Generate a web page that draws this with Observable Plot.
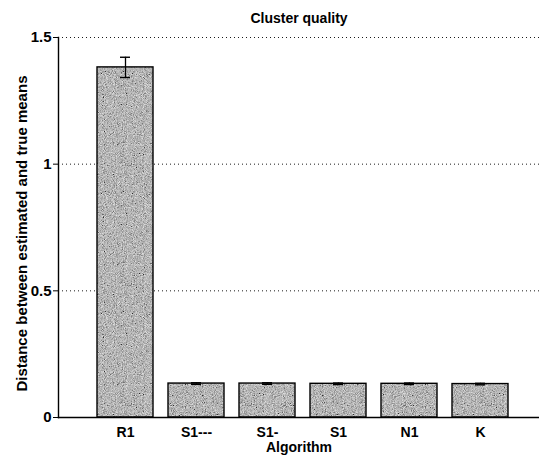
<!DOCTYPE html>
<html>
<head>
<meta charset="utf-8">
<script src="https://cdn.jsdelivr.net/npm/d3@7"></script>
<script src="https://cdn.jsdelivr.net/npm/@observablehq/plot@0.6"></script>
<style>
  html, body { margin: 0; padding: 0; background: #fff; }
  svg { font-family: "Liberation Sans", Arial, sans-serif; }
</style>
</head>
<body>
<div id="chart"></div>
<script>
const title = "Cluster quality";
const xLabel = "Algorithm";
const yLabel = "Distance between estimated and true means";
const algorithms = ["R1", "S1---", "S1-", "S1", "N1", "K"];
const means = [1.382, 0.134, 0.134, 0.133, 0.133, 0.132];
const errors = [0.040, 0.003, 0.003, 0.003, 0.003, 0.003];
const yTicks = [0, 0.5, 1, 1.5];

const data = algorithms.map((a, i) => ({algorithm: a, mean: means[i], lo: means[i] - errors[i], hi: means[i] + errors[i]}));

const plot = Plot.plot({
  width: 539,
  height: 456,
  marginTop: 37,
  marginBottom: 39,
  marginLeft: 58,
  marginRight: 0,
  style: {fontFamily: "Liberation Sans, Arial, sans-serif", fontSize: "13px", color: "#000", background: "#fff"},
  x: {domain: algorithms, paddingInner: 0.21, paddingOuter: 0.49, align: 0.565, label: null},
  y: {domain: [0, 1.5], label: null},
  marks: [
    Plot.gridY(yTicks.slice(1), {stroke: "#000", strokeOpacity: 0.9, strokeDasharray: "1,3"}),
    Plot.barY(data, {x: "algorithm", y: "mean", fill: "url(#stipple)", stroke: "#000", strokeWidth: 1.4}),
    Plot.ruleX(data, {x: "algorithm", y1: "lo", y2: "hi", stroke: "#000", strokeWidth: 1.3}),
    Plot.tickY(data, {x: "algorithm", y: "hi", stroke: "#000", strokeWidth: 1.4, insetLeft: 23, insetRight: 23}),
    Plot.tickY(data, {x: "algorithm", y: "lo", stroke: "#000", strokeWidth: 1.4, insetLeft: 23, insetRight: 23}),
    Plot.frame({anchor: "left", stroke: "#000", strokeWidth: 1.4}),
    Plot.frame({anchor: "bottom", stroke: "#000", strokeWidth: 1.4}),
    Plot.axisY(yTicks, {tickSize: 5, tickPadding: 2, tickFormat: d => String(d), fontWeight: "bold", fontSize: 15, label: null}),
    Plot.axisX({tickSize: 0, tickPadding: 10, fontWeight: "bold", fontSize: 14, label: xLabel, labelAnchor: "center", labelArrow: "none", labelOffset: 34}),
    Plot.text([yLabel], {frameAnchor: "left", textAnchor: "middle", rotate: -90, dx: -36, dy: 6, fontWeight: "bold", fontSize: 15}),
    Plot.text([title], {frameAnchor: "top", dy: -24, fontWeight: "bold", fontSize: 14})
  ]
});

// grey stipple texture for bar fills
const ns = "http://www.w3.org/2000/svg";
const defs = document.createElementNS(ns, "defs");
defs.innerHTML = `
  <filter id="noiseF" x="0" y="0" width="100%" height="100%">
    <feTurbulence type="fractalNoise" baseFrequency="1.1" numOctaves="2" seed="3" result="n"/>
    <feColorMatrix type="matrix" values="0.33 0.33 0.33 0 0  0.33 0.33 0.33 0 0  0.33 0.33 0.33 0 0  0 0 0 0 1" result="g"/>
    <feComponentTransfer>
      <feFuncR type="linear" slope="2.6" intercept="-0.75"/>
      <feFuncG type="linear" slope="2.6" intercept="-0.75"/>
      <feFuncB type="linear" slope="2.6" intercept="-0.75"/>
    </feComponentTransfer>
  </filter>
  <pattern id="stipple" patternUnits="userSpaceOnUse" width="120" height="120">
    <rect width="120" height="120" fill="#969696"/>
    <rect width="120" height="120" filter="url(#noiseF)" opacity="0.7"/>
  </pattern>`;
plot.insertBefore(defs, plot.firstChild);
document.getElementById("chart").appendChild(plot);
</script>
</body>
</html>
